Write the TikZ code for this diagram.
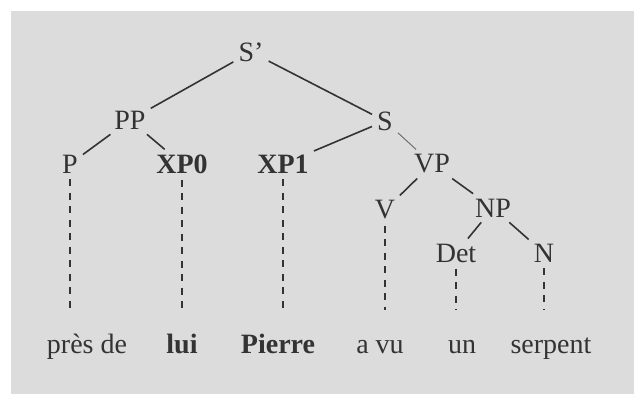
\documentclass[tikz,border=0pt]{standalone}
\usepackage{fontspec}
\setmainfont{Liberation Serif}
\definecolor{bg}{HTML}{DCDCDC}
\definecolor{ink}{HTML}{333333}
\begin{document}
\begin{tikzpicture}[x=1pt,y=-1pt,
  lab/.style={text=ink,font=\fontsize{28}{31}\selectfont,inner sep=5pt},
  word/.style={text=ink,font=\fontsize{28}{31}\selectfont,anchor=base,inner sep=0pt},
  edge/.style={draw=ink,line width=1.6pt},
  thin edge/.style={draw=ink!70,line width=1pt},
  dashline/.style={draw=ink,line width=1.6pt,dash pattern=on 7pt off 6.5pt}]
\useasboundingbox (0,0) rectangle (634,394);
\fill[white] (0,0) rectangle (634,394);
\fill[bg] (11,11) rectangle (634,394);
% tree nodes
\node[lab] (Sp)  at (251,52) {S’};
\node[lab] (PP)  at (130,120) {PP};
\node[lab] (S)   at (385,121) {S};
\node[lab] (P)   at (70,164) {P};
\node[lab] (XP0) at (182,164) {\textbf{XP0}};
\node[lab] (XP1) at (283,164) {\textbf{XP1}};
\node[lab] (VP)  at (432,164) {VP};
\node[lab] (V)   at (385,210) {V};
\node[lab] (NP)  at (493,208) {NP};
\node[lab] (Det) at (456,253) {Det};
\node[lab] (N)   at (544,253) {N};
% words
\node[word] (w1) at (87,353) {près de};
\node[word] (w2) at (182,353) {\textbf{lui}};
\node[word] (w3) at (278,353) {\textbf{Pierre}};
\node[word] (w4) at (380,353) {a vu};
\node[word] (w5) at (462,353) {un};
\node[word] (w6) at (551,353) {serpent};
% edges
\draw[edge] (Sp) -- (PP);
\draw[edge] (Sp) -- (S);
\draw[edge] (PP) -- (P);
\draw[edge] (PP) -- (XP0);
\draw[edge] (S) -- (XP1);
\draw[thin edge] (S) -- (VP);
\draw[edge] (VP) -- (V);
\draw[edge] (VP) -- (NP);
\draw[edge] (NP) -- (Det);
\draw[edge] (NP) -- (N);
% dashed links
\coordinate (eP) at (70,308);
\coordinate (eX0) at (182,308);
\coordinate (eX1) at (283,308);
\coordinate (eV) at (385,310);
\coordinate (eD) at (456,310);
\coordinate (eN) at (544,310);
\draw[dashline] ([yshift=-1pt]P.south) -- (eP);
\draw[dashline] ([yshift=-1pt]XP0.south) -- (eX0);
\draw[dashline] ([yshift=-1pt]XP1.south) -- (eX1);
\draw[dashline] ([yshift=-1pt]V.south) -- (eV);
\draw[dashline] ([yshift=-1pt]Det.south) -- (eD);
\draw[dashline] ([yshift=-1pt]N.south) -- (eN);
\end{tikzpicture}
\end{document}
